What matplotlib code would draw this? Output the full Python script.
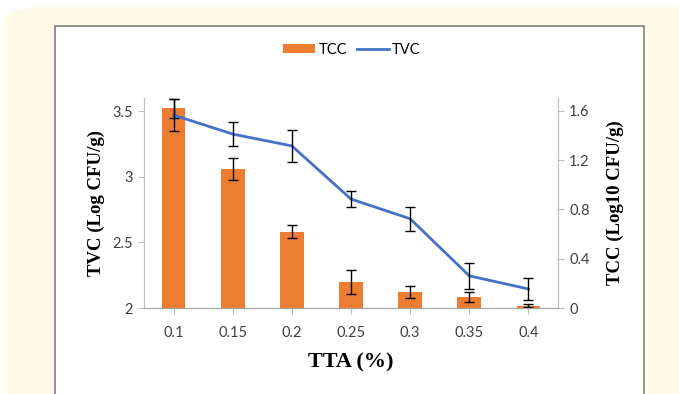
import matplotlib.pyplot as plt
from matplotlib.patches import FancyBboxPatch, Rectangle
import numpy as np

# data
tta = ["0.1", "0.15", "0.2", "0.25", "0.3", "0.35", "0.4"]
tcc = [1.62, 1.13, 0.62, 0.21, 0.13, 0.09, 0.02]
tcc_err = [0.08, 0.09, 0.05, 0.10, 0.05, 0.04, 0.01]
tvc = [3.47, 3.325, 3.235, 2.83, 2.68, 2.245, 2.145]
tvc_err = [0.12, 0.09, 0.12, 0.06, 0.09, 0.10, 0.085]

W, H = 679, 394
fig = plt.figure(figsize=(W / 100, H / 100), dpi=100)
fig.patch.set_facecolor("white")

# page frame: cream rounded panel + white card
cream = FancyBboxPatch((4 / W, -0.2), 1.2, 1 - 7 / H + 0.2,
                       boxstyle="round,pad=0,rounding_size=0.05",
                       transform=fig.transFigure, facecolor="#fffbe8",
                       edgecolor="none", zorder=-10)
fig.patches.append(cream)
card = Rectangle((55 / W, -0.1), (644 - 55) / W, 1 - 26 / H + 0.1,
                 transform=fig.transFigure, facecolor="white",
                 edgecolor="#808080", linewidth=1.2, zorder=-9)
fig.patches.append(card)

ax = fig.add_axes([144 / W, 1 - 308 / H, (558 - 144) / W, (308 - 98) / H])
ax2 = ax.twinx()
ax.set_zorder(ax2.get_zorder() + 1)
ax.patch.set_visible(False)

x = np.arange(len(tta))
tick_font = "Lato"

# bars: TCC on right axis
ax2.bar(x, tcc, width=0.4, color="#ed7d31", label="TCC")
ax2.errorbar(x, tcc, yerr=tcc_err, fmt="none", ecolor="black",
             elinewidth=1, capsize=3.5, capthick=1)

# line: TVC on left axis
ax.plot(x, tvc, color="#4472c4", linewidth=2, label="TVC")
ax.errorbar(x, tvc, yerr=tvc_err, fmt="none", ecolor="black",
            elinewidth=1, capsize=3.5, capthick=1)

ax.set_xlim(-0.5, len(tta) - 0.5)
ax.set_ylim(2, 3.6)
ax.set_yticks([2, 2.5, 3, 3.5])
ax.set_yticklabels(["2", "2.5", "3", "3.5"])
ax2.set_ylim(0, 1.705)
ax2.set_yticks([0, 0.4, 0.8, 1.2, 1.6])
ax2.set_yticklabels(["0", "0.4", "0.8", "1.2", "1.6"])
ax.set_xticks(x)
ax.set_xticklabels(tta)

for a in (ax, ax2):
    a.spines["top"].set_visible(False)
    a.spines["left"].set_color("#bfbfbf")
    a.spines["right"].set_color("#bfbfbf")
    a.spines["bottom"].set_color("#a6a6a6")
    a.tick_params(colors="#bfbfbf", labelcolor="#404040", length=4,
                  labelsize=10.5)
    for lab in a.get_xticklabels() + a.get_yticklabels():
        lab.set_fontfamily(tick_font)
ax.tick_params(axis="x", pad=9)
ax.tick_params(axis="y", pad=4)
ax2.tick_params(axis="y", pad=4)

ax.set_xlabel("TTA (%)", fontfamily="Liberation Serif", fontweight="bold",
              fontsize=16, color="black", labelpad=9)
ax.set_ylabel("TVC (Log CFU/g)", fontfamily="Liberation Serif",
              fontweight="bold", fontsize=13.5, color="black", labelpad=5)
ax2.set_ylabel("TCC (Log10 CFU/g)", fontfamily="Liberation Serif",
               fontweight="bold", fontsize=13.5, color="black", labelpad=12)

h2, l2 = ax2.get_legend_handles_labels()
h1, l1 = ax.get_legend_handles_labels()
fig.legend(h2 + h1, l2 + l1, loc="center", bbox_to_anchor=(352 / W, 1 - 50 / H),
           ncol=2, frameon=False, prop={"family": tick_font, "size": 10.5},
           handlelength=2.2, handleheight=0.55, handletextpad=0.2,
           columnspacing=0.7)

fig.savefig("out.png", dpi=100)
